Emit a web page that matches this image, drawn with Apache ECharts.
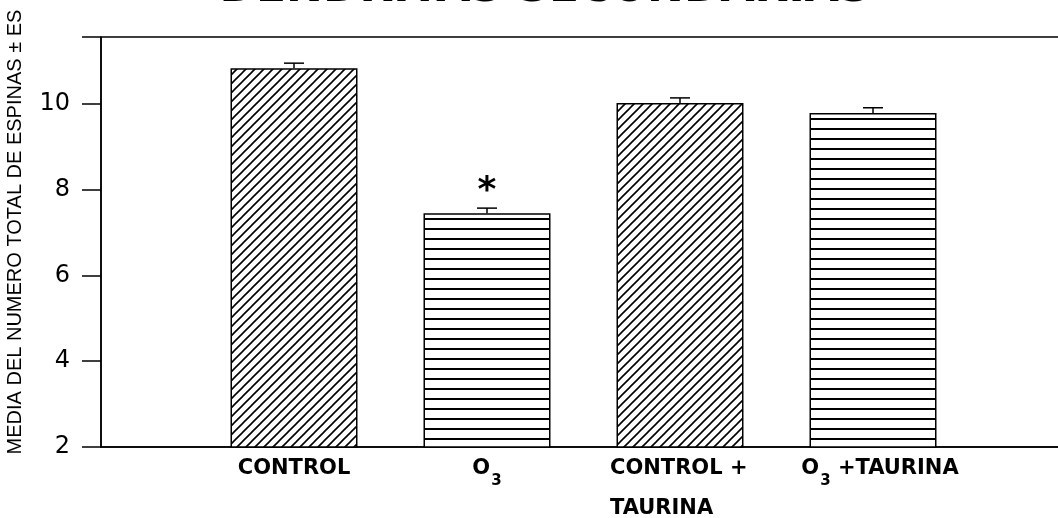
<!DOCTYPE html>
<html>
<head>
<meta charset="utf-8">
<script src="https://cdn.jsdelivr.net/npm/echarts@6/dist/echarts.min.js"></script>
<style>
  html, body { margin: 0; background: #fff; }
  #chart { width: 1058px; height: 518px; }
</style>
</head>
<body>
<div id="chart"></div>
<script>
// data
var categories = ['CONTROL', 'O3', 'CONTROL +\nTAURINA', 'O3 +TAURINA'];
var means = [10.83, 7.45, 10.02, 9.79];
var errors = [0.12, 0.12, 0.12, 0.12];
var marks = ['', '*', '', ''];
var fills = ['diag', 'horiz', 'diag', 'horiz'];
var yTicks = [2, 4, 6, 8, 10];

var labelFont = 'DejaVu Sans';

function makePattern(kind) {
  var c = document.createElement('canvas');
  var ctx = c.getContext('2d');
  if (kind === 'diag') {
    var s = 9;
    c.width = s; c.height = s;
    ctx.fillStyle = '#fff';
    ctx.fillRect(0, 0, s, s);
    ctx.strokeStyle = '#000';
    ctx.lineWidth = 1.6;
    ctx.beginPath();
    ctx.moveTo(-1, s + 1); ctx.lineTo(s + 1, -1);
    ctx.moveTo(-1, 1); ctx.lineTo(1, -1);
    ctx.moveTo(s - 1, s + 1); ctx.lineTo(s + 1, s - 1);
    ctx.stroke();
  } else {
    c.width = 10; c.height = 10;
    ctx.fillStyle = '#fff';
    ctx.fillRect(0, 0, 10, 10);
    ctx.fillStyle = '#000';
    ctx.fillRect(0, 8, 10, 2);
  }
  return { image: c, repeat: 'repeat' };
}

// padded so the bars sit on ticks 1..4 of a boundaryGap:false axis
var axisCats = [''].concat(categories).concat(['']);
var barData = ['-'].concat(means.map(function (v, i) {
  return { value: v, itemStyle: { color: makePattern(fills[i]) } };
})).concat(['-']);
var errData = means.map(function (v, i) { return [i + 1, v, errors[i], marks[i]]; });

var chart = echarts.init(document.getElementById('chart'));

chart.setOption({
  animation: false,
  backgroundColor: '#fff',
  graphic: [{
    type: 'text',
    x: 545, y: 12,
    style: {
      text: 'DENDRITAS SECUNDARIAS',
      font: 'bold 44px DejaVu Sans',
      fill: '#000',
      textAlign: 'center',
      textVerticalAlign: 'bottom'
    }
  }],
  grid: {
    left: 101, width: 965, top: 37, bottom: 71,
    outerBoundsMode: 'none',
    show: true, borderColor: '#000', borderWidth: 1.5
  },
  xAxis: {
    type: 'category',
    data: axisCats,
    boundaryGap: false,
    axisTick: { show: false },
    axisLine: { lineStyle: { color: '#000', width: 1.5 } },
    axisLabel: {
      interval: 0,
      margin: 2,
      color: '#000',
      formatter: function (v) {
        if (v === 'O3') return '{n|O}{s|3}';
        if (v === 'O3 +TAURINA') return '{g| }{n|O}{s|3}{n| +TAURINA}';
        if (v === 'CONTROL +\nTAURINA') return '{l|CONTROL +}\n{l|TAURINA}';
        if (v === '') return '';
        return '{n|' + v + '}';
      },
      rich: {
        n: { fontSize: 21, fontWeight: 'bold', fontFamily: labelFont, color: '#000', lineHeight: 40 },
        s: { fontSize: 15, fontWeight: 'bold', fontFamily: labelFont, color: '#000', lineHeight: 24, verticalAlign: 'bottom', padding: [0, 0, 0, 1] },
        l: { fontSize: 21, fontWeight: 'bold', fontFamily: labelFont, color: '#000', lineHeight: 40, width: 140, align: 'left' },
        g: { fontSize: 21, width: 14 }
      }
    }
  },
  yAxis: {
    type: 'value',
    min: 2,
    max: 11.56,
    interval: 2,
    splitLine: { show: false },
    axisLine: { show: true, lineStyle: { color: '#000', width: 1.5 } },
    axisTick: { show: true, length: 19, lineStyle: { color: '#000', width: 1.5 } },
    axisLabel: {
      margin: 31,
      color: '#000',
      fontSize: 24,
      fontFamily: labelFont,
      formatter: function (v) { return yTicks.indexOf(v) >= 0 ? String(v) : ''; }
    },
    name: 'MEDIA DEL NUMERO TOTAL DE ESPINAS ± ES',
    nameLocation: 'middle',
    nameGap: 76,
    nameTextStyle: { fontSize: 20, fontFamily: 'Liberation Sans', color: '#000', padding: [0, 0, 0, 20] }
  },
  series: [
    {
      type: 'bar',
      data: barData,
      barWidth: 127,
      itemStyle: { borderColor: '#000', borderWidth: 1.5 }
    },
    {
      type: 'custom',
      data: errData,
      z: 5,
      renderItem: function (params, api) {
        var x = api.value(0), v = api.value(1), e = api.value(2);
        var mark = errData[params.dataIndex][3];
        var p0 = api.coord([x, v]);
        var p1 = api.coord([x, v + e]);
        var st = { stroke: '#000', lineWidth: 1.5 };
        var children = [
          { type: 'line', shape: { x1: p0[0], y1: p0[1], x2: p1[0], y2: p1[1] }, style: st },
          { type: 'line', shape: { x1: p1[0] - 10, y1: p1[1], x2: p1[0] + 10, y2: p1[1] }, style: st }
        ];
        if (mark) {
          children.push({
            type: 'text',
            x: p1[0], y: p1[1] - 16,
            style: { text: mark, font: 'bold 36px DejaVu Sans', fill: '#000', textAlign: 'center', textVerticalAlign: 'middle' }
          });
        }
        return { type: 'group', children: children };
      }
    }
  ]
});
</script>
</body>
</html>
